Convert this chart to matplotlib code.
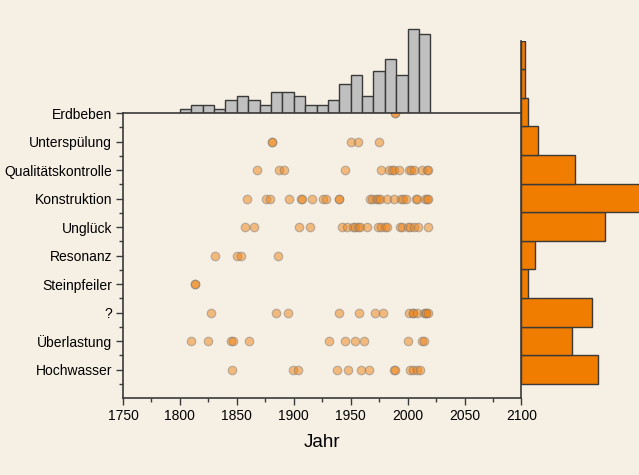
import numpy as np
import matplotlib
matplotlib.use("Agg")
import matplotlib.pyplot as plt

plt.rcParams['font.family'] = ['Liberation Sans', 'DejaVu Sans']

# Kategorien von unten nach oben
categories = ['Hochwasser', 'Überlastung', '?', 'Steinpfeiler', 'Resonanz',
              'Unglück', 'Konstruktion', 'Qualitätskontrolle', 'Unterspülung', 'Erdbeben']

# Einsturzjahre je Kategorie
years_hochwasser = [1846, 1899, 1904, 1938, 1948, 1959, 1966, 1988, 1989, 2002, 2005, 2008, 2011]
years_ueberlastung = [1810, 1825, 1845, 1847, 1861, 1931, 1945, 1954, 1962, 2000, 2013, 2014]
years_unbekannt = [1827, 1884, 1895, 1940, 1957, 1971, 1978, 2001, 2005, 2005, 2008, 2014, 2016, 2016, 2018]
years_steinpfeiler = [1813, 1813]
years_resonanz = [1831, 1850, 1854, 1886]
years_unglueck = [1857, 1865, 1905, 1914, 1942, 1947, 1952, 1954, 1956, 1958, 1964, 1974, 1977,
                  1980, 1982, 1993, 1995, 2000, 2002, 2006, 2009, 2018]
years_konstruktion = [1859, 1876, 1879, 1896, 1906, 1907, 1916, 1926, 1928, 1940, 1940, 1967, 1969,
                      1972, 1974, 1976, 1982, 1988, 1994, 1996, 1999, 2007, 2008, 2015, 2017, 2018]
years_qualitaet = [1868, 1887, 1891, 1945, 1977, 1984, 1986, 1988, 1992, 2001, 2003, 2006, 2013, 2017, 2018]
years_unterspuelung = [1881, 1881, 1950, 1956, 1975]
years_erdbeben = [1989, 1989]

all_years = [years_hochwasser, years_ueberlastung, years_unbekannt, years_steinpfeiler,
             years_resonanz, years_unglueck, years_konstruktion, years_qualitaet,
             years_unterspuelung, years_erdbeben]

# Histogramm oben (Jahrzehnte 1800-2010)
decade_starts = list(range(1800, 2020, 10))
decade_counts = [1, 2, 2, 1, 3, 4, 3, 2, 5, 5, 4, 2, 2, 3, 7, 9, 4, 10, 13, 9, 20, 19]

# Histogramm rechts (Kategorie 1..12)
cat_counts = [23, 15, 21, 2, 4, 25, 40, 16, 5, 2, 1, 1]

bg = '#f6efe4'
edge = '#3a3a3a'

fig = plt.figure(figsize=(6.39, 4.75), dpi=100, facecolor=bg)

# Hauptdiagramm
ax = fig.add_axes([0.1925, 0.1621, 0.6236, 0.6])
ax.set_facecolor(bg)
for i, yrs in enumerate(all_years):
    ax.scatter(yrs, [i + 1] * len(yrs), s=38, color='#ef8417', alpha=0.5,
               edgecolors='#7a7a7a', linewidths=0.8, zorder=3)
ax.set_xlim(1750, 2100)
ax.set_ylim(0, 10)
ax.set_xticks(range(1750, 2101, 50))
ax.set_xticks(range(1775, 2100, 50), minor=True)
ax.set_yticks(range(1, 11))
ax.set_yticklabels(categories)
ax.set_yticks(np.arange(0.5, 10, 1), minor=True)
ax.tick_params(axis='both', which='major', length=5, width=1, color=edge, labelsize=10, pad=3)
ax.tick_params(axis='both', which='minor', length=3, width=1, color=edge)
ax.spines['top'].set_visible(False)
ax.spines['right'].set_visible(False)
ax.spines['left'].set_color(edge)
ax.spines['bottom'].set_color(edge)
ax.spines['left'].set_linewidth(1.2)
ax.spines['bottom'].set_linewidth(1.2)
ax.set_xlabel('Jahr', fontsize=13.5, labelpad=8)

# Histogramm oben
axt = fig.add_axes([0.1925, 0.7621, 0.6236, 0.1958])
axt.set_facecolor('none')
axt.bar(decade_starts, decade_counts, width=10, align='edge', color='#c0c0c0',
        edgecolor=edge, linewidth=1)
axt.set_xlim(1750, 2100)
axt.set_ylim(0, 22.25)
axt.axis('off')
axt.axhline(0, color=edge, linewidth=1.2, clip_on=False)

# Histogramm rechts
axr = fig.add_axes([0.8161, 0.1621, 0.1839, 0.7526])
axr.set_facecolor('none')
axr.barh(range(1, 13), cat_counts, height=1, color='#f07d00', edgecolor=edge, linewidth=1)
axr.set_ylim(0, 12.5)
axr.set_xlim(0, 35.2)
for s in ['top', 'right', 'bottom']:
    axr.spines[s].set_visible(False)
axr.spines['left'].set_color(edge)
axr.spines['left'].set_linewidth(1.2)
axr.set_xticks([])
axr.set_yticks([])

fig.savefig('out.png', dpi=100, facecolor=bg)
